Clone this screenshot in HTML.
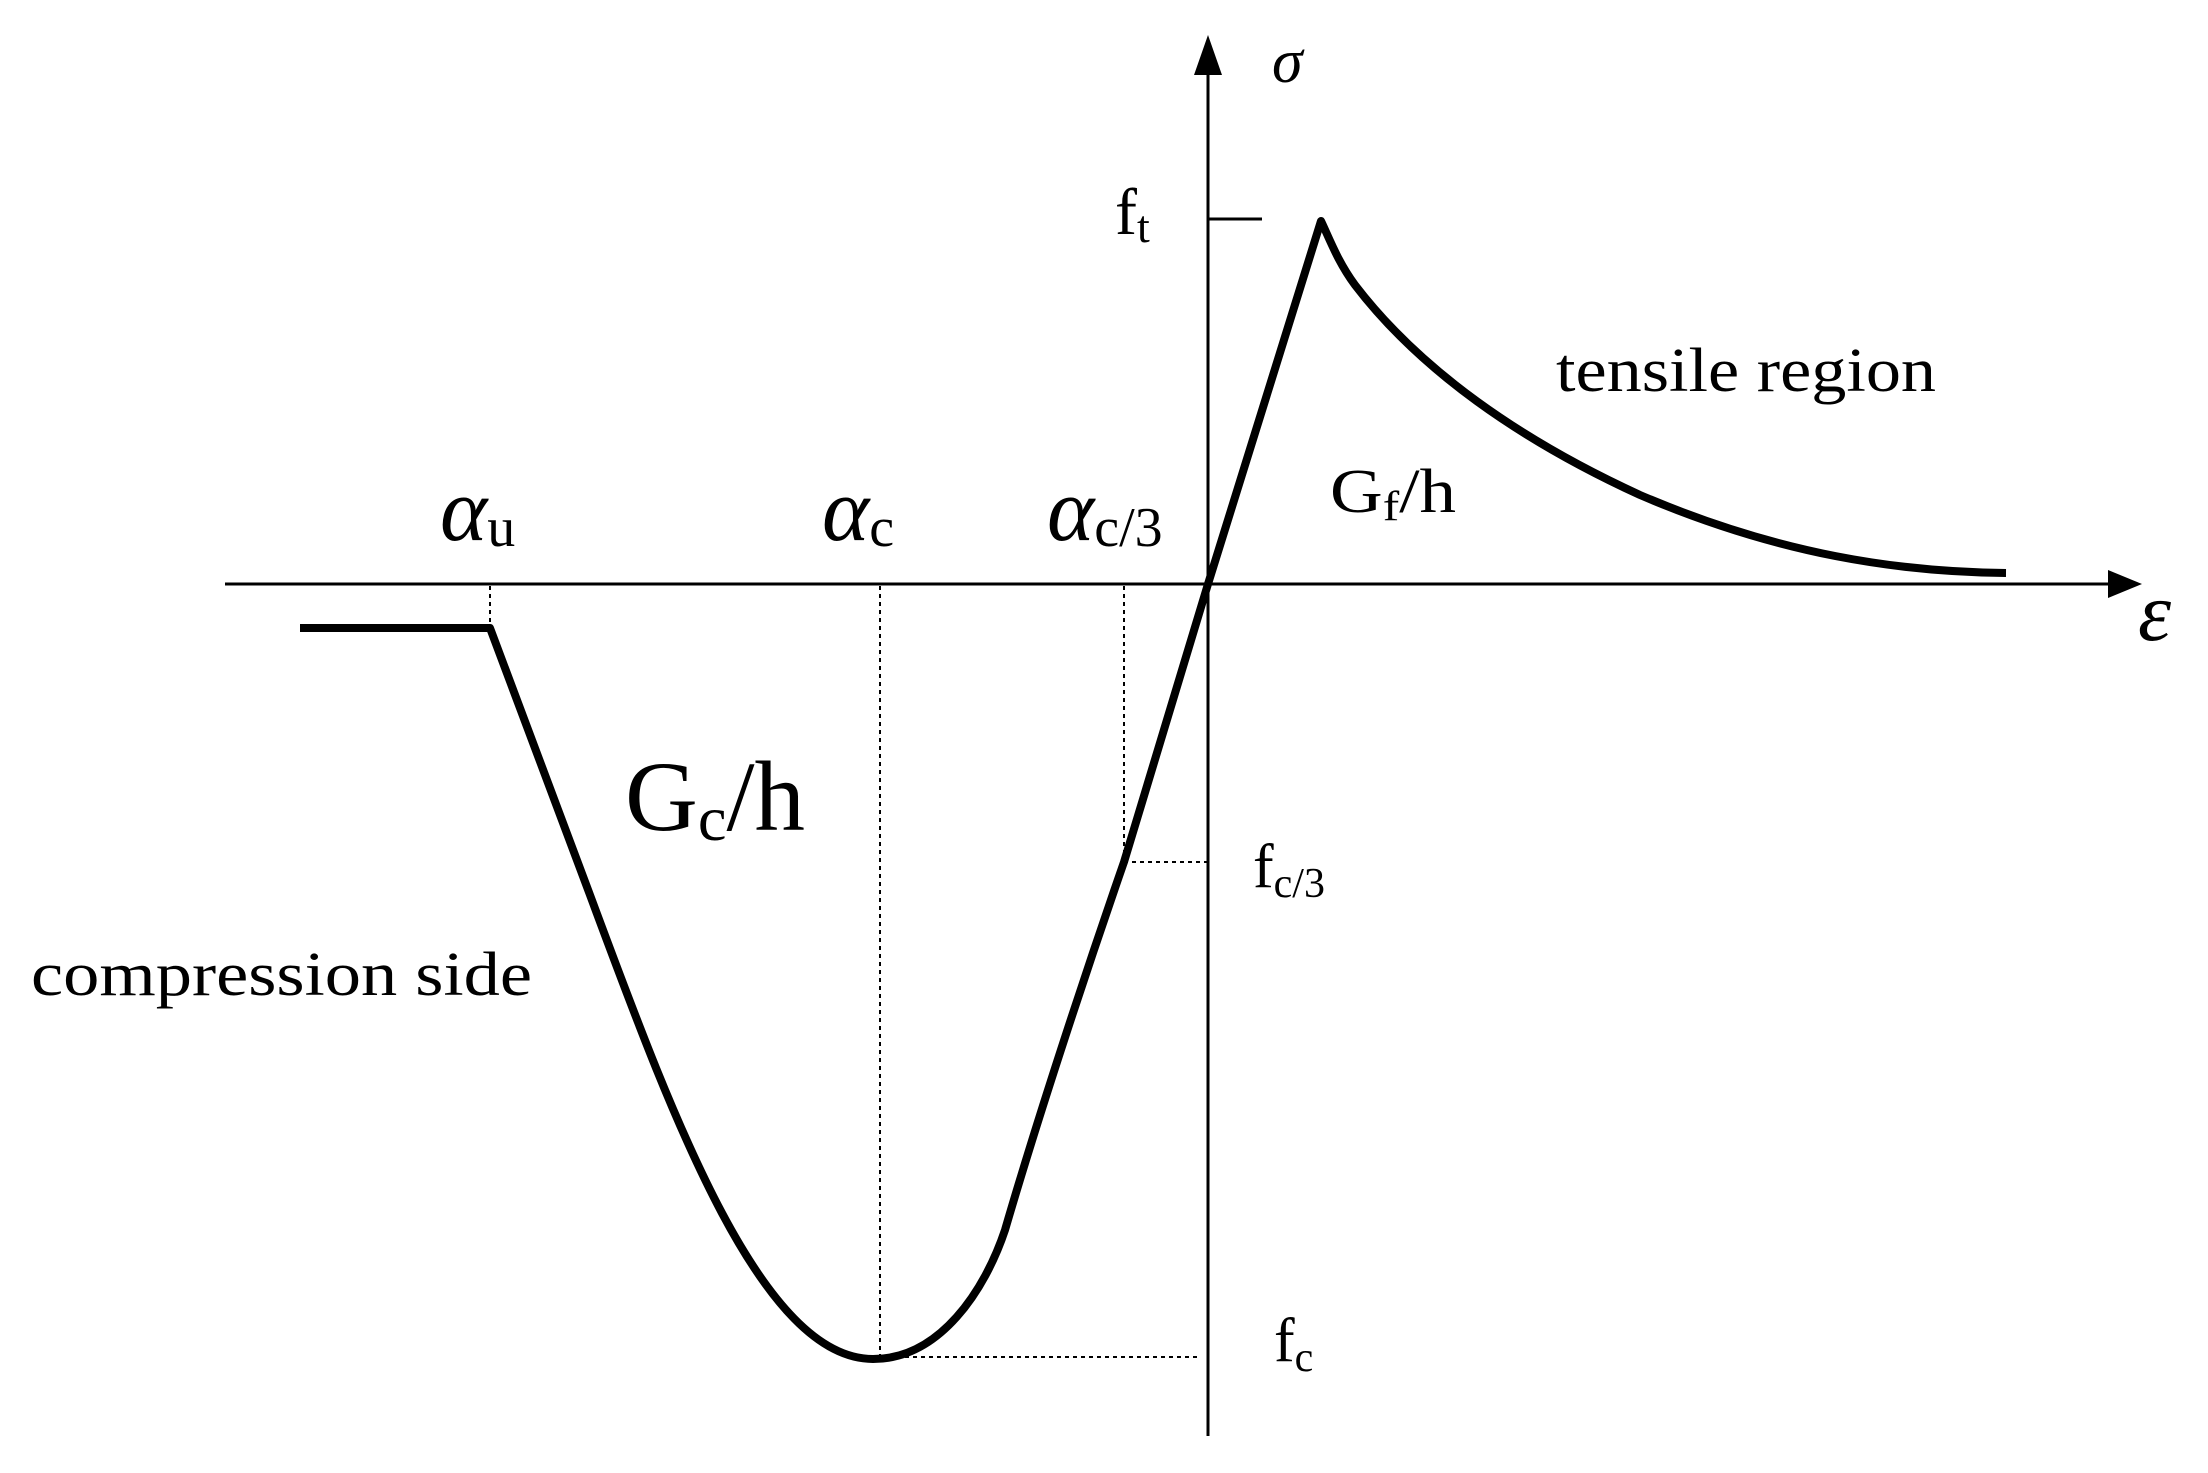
<!DOCTYPE html>
<html><head><meta charset="utf-8"><style>
html,body{margin:0;padding:0;background:#fff;}
svg{display:block;}
text{font-family:"Liberation Serif",serif;fill:#000;}
</style></head><body>
<svg width="2208" height="1473" viewBox="0 0 2208 1473" xmlns="http://www.w3.org/2000/svg">
<line x1="225" y1="584" x2="2110" y2="584" stroke="#000" stroke-width="3"/>
<polygon points="2142,584 2108,570 2108,598" fill="#000"/>
<line x1="1208" y1="1436" x2="1208" y2="70" stroke="#000" stroke-width="3"/>
<polygon points="1208,35 1194,75 1222,75" fill="#000"/>
<line x1="1208" y1="219" x2="1262" y2="219" stroke="#000" stroke-width="3"/>
<g stroke="#000" stroke-width="2" stroke-dasharray="4,4" fill="none">
<line x1="490" y1="586" x2="490" y2="628"/>
<line x1="880" y1="586" x2="880" y2="1359"/>
<line x1="1124" y1="586" x2="1124" y2="862"/>
<line x1="1124" y1="862" x2="1208" y2="862"/>
<line x1="873" y1="1357" x2="1197" y2="1357"/>
</g>
<path d="M300,628 L490,628 L590,895 C670,1110 760,1359 873,1359 C940,1359 985,1290 1005,1230 C1040,1110 1090,960 1124,862 L1208,584 L1321,221 C1330,240 1338,262 1355,285 C1420,370 1520,440 1640,495 C1780,555 1900,572 2006,573" fill="none" stroke="#000" stroke-width="8" stroke-linejoin="round"/>
<text x="1272" y="82" font-size="62" font-style="italic">σ</text>
<text x="1115" y="234" font-size="66">f<tspan font-size="46" dy="8">t</tspan></text>
<text x="2138" y="640" font-size="84" font-style="italic">ε</text>
<text x="440" y="540" font-size="90" font-style="italic">α<tspan font-size="56" font-style="normal" dy="6">u</tspan></text>
<text x="822" y="540" font-size="90" font-style="italic">α<tspan font-size="56" font-style="normal" dy="6">c</tspan></text>
<text x="1047" y="540" font-size="90" font-style="italic">α<tspan font-size="56" font-style="normal" dy="6">c/3</tspan></text>
<text x="625" y="830" font-size="100" textLength="180" lengthAdjust="spacingAndGlyphs">G<tspan font-size="64" dy="10">c</tspan><tspan dy="-10">/h</tspan></text>
<text x="1330" y="512" font-size="62" textLength="126" lengthAdjust="spacingAndGlyphs">G<tspan font-size="42" dy="8">f</tspan><tspan dy="-8">/h</tspan></text>
<text x="1556" y="391" font-size="62" textLength="380" lengthAdjust="spacingAndGlyphs">tensile region</text>
<text x="31" y="995" font-size="62" textLength="501" lengthAdjust="spacingAndGlyphs">compression side</text>
<text x="1253" y="887" font-size="62">f<tspan font-size="42" dy="10">c/3</tspan></text>
<text x="1274" y="1361" font-size="62">f<tspan font-size="42" dy="10">c</tspan></text>
</svg>
</body></html>
